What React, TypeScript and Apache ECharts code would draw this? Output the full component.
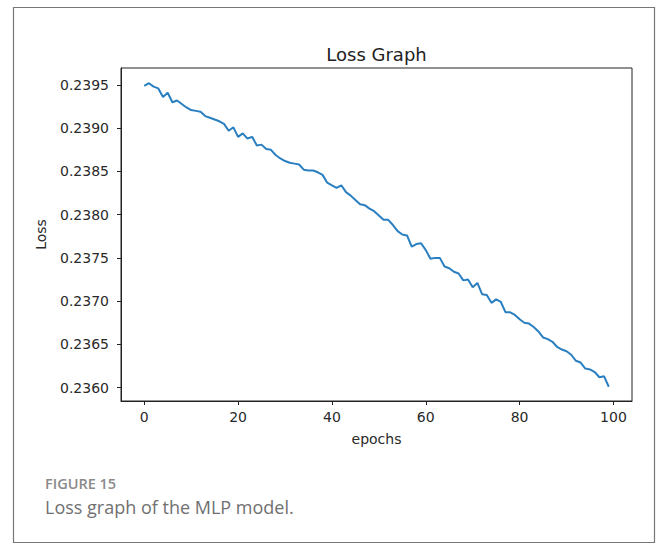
import React, { useEffect, useRef } from "react";
import * as echarts from "echarts";

const epochs: number[] = Array.from({ length: 100 }, (_, i) => i);
const lossValues: number[] = [
  0.23949, 0.23952, 0.23948, 0.23946, 0.23936, 0.23941, 0.2393, 0.23932, 0.23928, 0.23924,
  0.23921, 0.2392, 0.23919, 0.23914, 0.23912, 0.2391, 0.23908, 0.23905, 0.23897, 0.23901,
  0.2389, 0.23894, 0.23888, 0.2389, 0.2388, 0.23881, 0.23876, 0.23875, 0.23869, 0.23865,
  0.23862, 0.2386, 0.23859, 0.23858, 0.23852, 0.23851, 0.23851, 0.23849, 0.23846, 0.23837,
  0.23834, 0.23831, 0.23834, 0.23826, 0.23822, 0.23817, 0.23812, 0.23811, 0.23807, 0.23804,
  0.23799, 0.23794, 0.23794, 0.23788, 0.23781, 0.23777, 0.23776, 0.23763, 0.23766, 0.23767,
  0.23759, 0.23749, 0.2375, 0.2375, 0.2374, 0.23738, 0.23734, 0.23732, 0.23724, 0.23725,
  0.23716, 0.23721, 0.23708, 0.23707, 0.23698, 0.23702, 0.23699, 0.23687, 0.23687, 0.23684,
  0.23679, 0.23675, 0.23674, 0.2367, 0.23665, 0.23658, 0.23656, 0.23653, 0.23647, 0.23644,
  0.23642, 0.23638, 0.23631, 0.23629, 0.23622, 0.23621, 0.23618, 0.23612, 0.23613, 0.23601,
];
const xTicks: number[] = [0, 20, 40, 60, 80, 100];
const yTicks: number[] = [0.236, 0.2365, 0.237, 0.2375, 0.238, 0.2385, 0.239, 0.2395];

const chartTitle = "Loss Graph";
const xName = "epochs";
const yName = "Loss";
const figLabel = "FIGURE 15";
const caption = "Loss graph of the MLP model.";

export default function App() {
  const ref = useRef<HTMLDivElement>(null);
  useEffect(() => {
    if (!ref.current) return;
    const chart = echarts.init(ref.current, null, { renderer: "svg" });
    const axisFont = { fontFamily: "DejaVu Sans", fontSize: 14, color: "#2a2a2a" };
    chart.setOption({
      animation: false,
      backgroundColor: "#fff",
      grid: {
        left: 121,
        top: 68,
        width: 511,
        height: 333,
        show: true,
        borderColor: "#222",
        borderWidth: 1,
        containLabel: false,
      },
      xAxis: {
        type: "value",
        min: -4.95,
        max: 103.95,
        name: xName,
        nameLocation: "middle",
        nameGap: 31,
        nameTextStyle: { ...axisFont },
        axisLine: { show: true, onZero: false, lineStyle: { color: "#222", width: 1 } },
        splitLine: { show: false },
        axisTick: {
          show: true,
          length: 4,
          customValues: xTicks,
          lineStyle: { color: "#222", width: 1 },
        },
        axisLabel: {
          ...axisFont,
          margin: 9,
          customValues: xTicks,
          formatter: (v: number) => String(v),
        },
      },
      yAxis: {
        type: "value",
        min: 0.235845,
        max: 0.239696,
        name: yName,
        nameLocation: "middle",
        nameGap: 73,
        nameRotate: 90,
        nameTextStyle: { ...axisFont },
        axisLine: { show: true, onZero: false, lineStyle: { color: "#222", width: 1 } },
        splitLine: { show: false },
        axisTick: {
          show: true,
          length: 4,
          customValues: yTicks,
          lineStyle: { color: "#222", width: 1 },
        },
        axisLabel: {
          ...axisFont,
          margin: 12,
          customValues: yTicks,
          formatter: (v: number) => v.toFixed(4),
        },
      },
      series: [
        {
          type: "line",
          data: epochs.map((e, i) => [e, lossValues[i]]),
          showSymbol: false,
          lineStyle: { color: "#2a7fc0", width: 2 },
        },
      ],
      graphic: [
        {
          type: "rect",
          shape: { x: 13.5, y: 7.5, width: 641, height: 535 },
          style: { fill: "none", stroke: "#777", lineWidth: 1.2 },
          silent: true,
        },
        {
          type: "text",
          x: 376.5,
          y: 54,
          style: {
            text: chartTitle,
            fontFamily: "DejaVu Sans",
            fontSize: 18,
            fill: "#222",
            textAlign: "center",
            textVerticalAlign: "middle",
          },
        },
        {
          type: "text",
          x: 45,
          y: 483,
          style: {
            text: figLabel,
            fontFamily: "Open Sans",
            fontSize: 14.5,
            fontWeight: 600,
            fill: "#8a8a8a",
            textAlign: "left",
            textVerticalAlign: "middle",
          },
        },
        {
          type: "text",
          x: 45,
          y: 507,
          style: {
            text: caption,
            fontFamily: "Open Sans",
            fontSize: 18,
            fill: "#707070",
            textAlign: "left",
            textVerticalAlign: "middle",
          },
        },
      ],
    });
    return () => chart.dispose();
  }, []);
  return (
    <div
      ref={ref}
      style={{ position: "fixed", left: 0, top: 0, width: 659, height: 551 }}
    />
  );
}
